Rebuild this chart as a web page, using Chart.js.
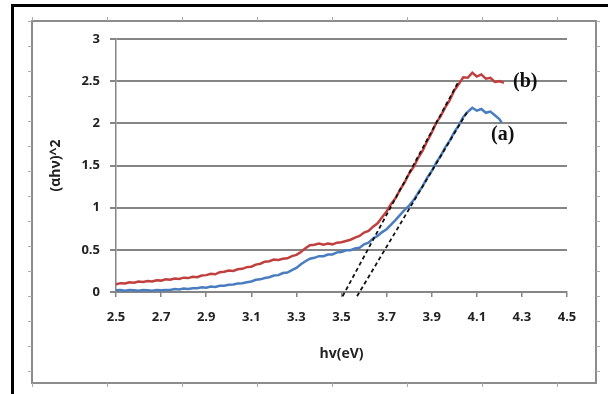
<!DOCTYPE html>
<html>
<head>
<meta charset="utf-8">
<script src="https://cdn.jsdelivr.net/npm/chart.js@4"></script>
<style>
  html, body { margin: 0; padding: 0; background: #fff; }
  #wrap { position: relative; width: 608px; height: 394px; overflow: hidden; background: #fff; }
  #frame { position: absolute; left: 11px; top: 4px; width: 700px; height: 500px; border-top: 3px solid #000; border-left: 3px solid #000; box-sizing: border-box; pointer-events: none; }
  canvas { position: absolute; left: 0; top: 0; }
</style>
</head>
<body>
<div id="wrap">
  <canvas id="c" width="608" height="394"></canvas>
  <div id="frame"></div>
</div>
<script>
// ---- data ----
const xB = [2.50,2.52,2.54,2.56,2.58,2.60,2.62,2.64,2.66,2.68,2.70,2.72,2.74,2.76,2.78,2.80,2.82,2.84,2.86,2.88,2.90,2.92,2.94,2.96,2.98,3.00,3.02,3.04,3.06,3.08,3.10,3.12,3.14,3.16,3.18,3.20,3.22,3.24,3.26,3.28,3.30,3.32,3.34,3.36,3.38,3.40,3.42,3.44,3.46,3.48,3.50,3.52,3.54,3.56,3.58,3.60,3.62,3.64,3.66,3.68,3.70,3.72,3.74,3.76,3.78,3.80,3.82,3.84,3.86,3.88,3.90,3.92,3.94,3.96,3.98,4.00,4.02,4.04,4.06,4.08,4.10,4.12,4.14,4.16,4.18,4.20,4.22];
const yB = [0.09,0.105,0.10,0.115,0.11,0.125,0.12,0.13,0.125,0.14,0.135,0.15,0.145,0.16,0.155,0.17,0.165,0.18,0.175,0.195,0.20,0.215,0.21,0.235,0.24,0.255,0.25,0.27,0.275,0.295,0.30,0.325,0.335,0.36,0.365,0.385,0.38,0.395,0.40,0.425,0.44,0.475,0.52,0.555,0.56,0.575,0.56,0.575,0.565,0.585,0.59,0.605,0.62,0.645,0.665,0.705,0.725,0.775,0.815,0.885,0.955,1.045,1.115,1.215,1.30,1.405,1.485,1.59,1.675,1.79,1.89,2.005,2.085,2.19,2.275,2.39,2.465,2.545,2.54,2.60,2.555,2.58,2.53,2.54,2.49,2.50,2.48];
const xA = [2.50,2.52,2.54,2.56,2.58,2.60,2.62,2.64,2.66,2.68,2.70,2.72,2.74,2.76,2.78,2.80,2.82,2.84,2.86,2.88,2.90,2.92,2.94,2.96,2.98,3.00,3.02,3.04,3.06,3.08,3.10,3.12,3.14,3.16,3.18,3.20,3.22,3.24,3.26,3.28,3.30,3.32,3.34,3.36,3.38,3.40,3.42,3.44,3.46,3.48,3.50,3.52,3.54,3.56,3.58,3.60,3.62,3.64,3.66,3.68,3.70,3.72,3.74,3.76,3.78,3.80,3.82,3.84,3.86,3.88,3.90,3.92,3.94,3.96,3.98,4.00,4.02,4.04,4.06,4.08,4.10,4.12,4.14,4.16,4.18,4.20,4.21];
const yA = [0.02,0.025,0.015,0.025,0.02,0.015,0.025,0.02,0.015,0.025,0.02,0.025,0.025,0.035,0.03,0.04,0.035,0.045,0.045,0.055,0.05,0.065,0.06,0.075,0.075,0.085,0.09,0.10,0.105,0.115,0.125,0.145,0.15,0.165,0.175,0.195,0.20,0.225,0.23,0.26,0.285,0.33,0.365,0.395,0.405,0.425,0.425,0.445,0.445,0.47,0.475,0.495,0.495,0.515,0.525,0.565,0.585,0.635,0.665,0.71,0.745,0.80,0.855,0.915,0.975,1.025,1.09,1.175,1.255,1.355,1.435,1.535,1.615,1.715,1.795,1.895,1.975,2.075,2.135,2.185,2.15,2.17,2.125,2.14,2.095,2.05,2.01];
// tangent (extrapolation) lines
const tanBx = [3.505, 4.02];
const tanBy = [-0.05, 2.50];
const tanAx = [3.569, 4.056];
const tanAy = [-0.05, 2.13];
// ticks
const xTicks = [2.5,2.7,2.9,3.1,3.3,3.5,3.7,3.9,4.1,4.3,4.5];
const xTickLabels = ['2.5','2.7','2.9','3.1','3.3','3.5','3.7','3.9','4.1','4.3','4.5'];
const yTicks = [0,0.5,1,1.5,2,2.5,3];
const yTickLabels = ['0','0.5','1','1.5','2','2.5','3'];
// curve labels
const curveLabels = ['(b)', '(a)'];
const curveLabelX = [4.315, 4.215];
const curveLabelY = [2.49, 1.86];

const pts = (xs, ys) => xs.map((x, i) => ({x: x, y: ys[i]}));

const framePlugin = {
  id: 'frame',
  beforeDraw(chart) {
    const ctx = chart.ctx;
    ctx.save();
    ctx.fillStyle = '#fff';
    ctx.fillRect(0, 0, chart.width, chart.height);
    ctx.strokeStyle = '#8c8c8c';
    ctx.lineWidth = 2;
    const L = 32, T = 21, R = 596, B = 383;
    ctx.strokeRect(L, T, R - L, B - T);
    ctx.lineWidth = 1;
    ctx.strokeStyle = '#aaa';
    ctx.beginPath();
    for (let x = L; x <= R; x += 75) {
      ctx.moveTo(x + 0.5, T - 4); ctx.lineTo(x + 0.5, T);
      ctx.moveTo(x + 0.5, B); ctx.lineTo(x + 0.5, B + 4);
    }
    for (let y = T; y <= B; y += 25) {
      ctx.moveTo(L - 4, y + 0.5); ctx.lineTo(L, y + 0.5);
      ctx.moveTo(R, y + 0.5); ctx.lineTo(R + 4, y + 0.5);
    }
    ctx.stroke();
    ctx.restore();
  },
  afterDatasetsDraw(chart) {
    const ctx = chart.ctx;
    const xs = chart.scales.x, ys = chart.scales.y;
    ctx.save();
    ctx.fillStyle = '#111';
    ctx.font = 'bold 20px "Liberation Serif", "Times New Roman", serif';
    ctx.textAlign = 'center';
    ctx.textBaseline = 'middle';
    curveLabels.forEach((t, i) => {
      ctx.fillText(t, xs.getPixelForValue(curveLabelX[i]), ys.getPixelForValue(curveLabelY[i]));
    });
    ctx.restore();
  }
};

const tickFont = { family: '"Open Sans", sans-serif', size: 13, weight: 'bold' };
const gridColor = '#858585';

new Chart(document.getElementById('c'), {
  type: 'line',
  data: {
    datasets: [
      { data: pts(xB, yB), borderColor: '#c0403f', borderWidth: 2.5, pointRadius: 0, tension: 0, order: 2 },
      { data: pts(xA, yA), borderColor: '#4a7cc0', borderWidth: 2.5, pointRadius: 0, tension: 0, order: 2 },
      { data: pts(tanBx, tanBy), borderColor: '#111', borderWidth: 1.8, borderDash: [4, 3], pointRadius: 0, clip: false, order: 1 },
      { data: pts(tanAx, tanAy), borderColor: '#111', borderWidth: 1.8, borderDash: [4, 3], pointRadius: 0, clip: false, order: 1 }
    ]
  },
  options: {
    responsive: false,
    animation: false,
    devicePixelRatio: 1,
    layout: { padding: { left: 35, top: 39, right: 41, bottom: 20 } },
    plugins: { legend: { display: false }, tooltip: { enabled: false } },
    scales: {
      x: {
        type: 'linear', min: 2.5, max: 4.5,
        afterBuildTicks: (s) => { s.ticks = xTicks.map(v => ({ value: v })); },
        afterFit: (s) => { s.height = 82; },
        ticks: { font: tickFont, color: '#222', padding: 12, maxRotation: 0, autoSkip: false,
                 callback: (v, i) => xTickLabels[i] },
        grid: { drawOnChartArea: false, drawTicks: true, tickLength: 5, color: gridColor, lineWidth: 1.5 },
        border: { color: gridColor, width: 1.5 },
        title: { display: true, text: 'hv(eV)', font: { family: '"Open Sans", sans-serif', size: 14, weight: 'bold' }, color: '#222', padding: { top: 0, bottom: 12 } }
      },
      y: {
        type: 'linear', min: 0, max: 3,
        afterBuildTicks: (s) => { s.ticks = yTicks.map(v => ({ value: v })); },
        afterFit: (s) => { s.width = 81; },
        ticks: { font: tickFont, color: '#222', padding: 10, autoSkip: false,
                 callback: (v, i) => yTickLabels[i] },
        grid: { drawOnChartArea: true, drawTicks: true, tickLength: 6, color: gridColor, lineWidth: 2 },
        border: { color: gridColor, width: 1.5 },
        title: { display: true, text: '(αhν)^2', font: { family: '"Open Sans", sans-serif', size: 14, weight: 'bold' }, color: '#222', padding: { top: 13, bottom: 0 } }
      }
    }
  },
  plugins: [framePlugin]
});
</script>
</body>
</html>
